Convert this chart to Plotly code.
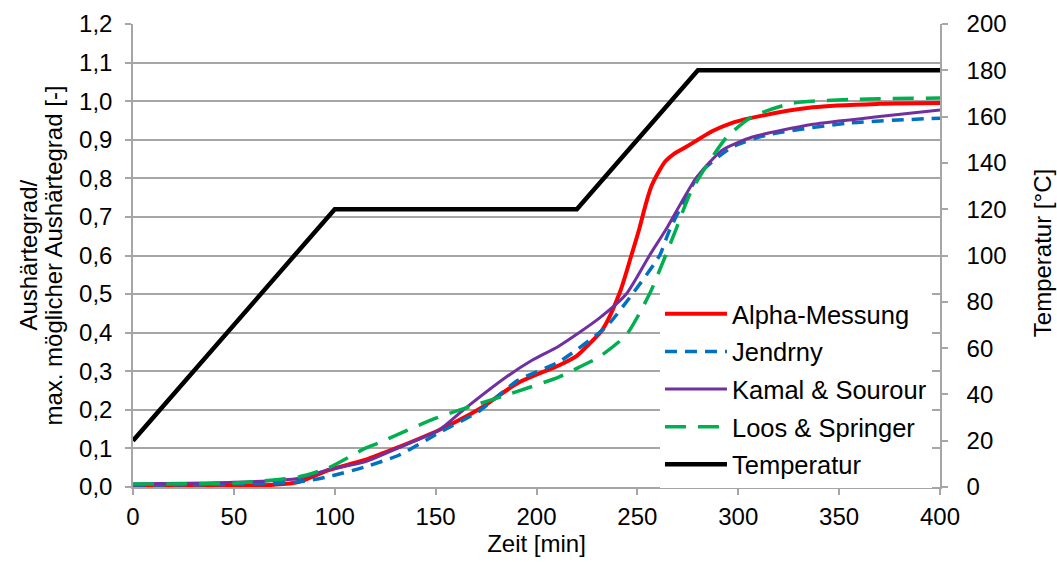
import plotly.graph_objects as go

# ---- data ----
alpha_x = [0, 50, 70, 82, 97, 115, 132, 151.5, 171, 191, 211, 220, 226, 232.6, 241, 247, 251, 254, 257, 261, 264, 268, 273, 280, 287, 296, 306, 337, 370, 400]
alpha_y = [0.003, 0.004, 0.006, 0.013, 0.044, 0.07, 0.104, 0.147, 0.2, 0.27, 0.315, 0.34, 0.37, 0.407, 0.5, 0.6, 0.67, 0.73, 0.78, 0.821, 0.845, 0.863, 0.878, 0.9, 0.922, 0.942, 0.956, 0.984, 0.993, 0.995]

jendrny_x = [0, 50, 82, 97, 115, 132, 151.5, 171, 191, 211, 234.5, 247.5, 261, 266, 281, 297, 314, 354, 400]
jendrny_y = [0.005, 0.007, 0.013, 0.027, 0.052, 0.083, 0.14, 0.195, 0.277, 0.324, 0.415, 0.5, 0.6, 0.666, 0.813, 0.881, 0.912, 0.943, 0.956]

kamal_x = [0, 50, 82, 97, 115, 137, 151.5, 165, 185, 198, 211, 231, 244.5, 256, 264, 279, 292, 307, 337, 370, 400]
kamal_y = [0.008, 0.012, 0.022, 0.045, 0.065, 0.114, 0.147, 0.205, 0.285, 0.329, 0.365, 0.437, 0.5, 0.6, 0.666, 0.8, 0.873, 0.907, 0.94, 0.96, 0.977]

loos_x = [0, 50, 82, 97, 115, 121.6, 148, 165, 185, 211, 221, 231, 244.5, 256, 264, 269, 277, 294, 307, 327, 360, 400]
loos_y = [0.008, 0.01, 0.026, 0.05, 0.1, 0.114, 0.174, 0.205, 0.238, 0.285, 0.31, 0.337, 0.394, 0.5, 0.6, 0.666, 0.77, 0.905, 0.96, 0.995, 1.005, 1.008]

temp_x = [0, 100, 220, 280, 400]
temp_y = [20, 120, 120, 180, 180]

FONT = "Liberation Sans, Arial, sans-serif"
FS = 24
LFS = 25.5
GRID = "#a6a6a6"

fig = go.Figure()
fig.add_trace(go.Scatter(x=alpha_x, y=alpha_y, name="Alpha-Messung", mode="lines", legendgroup="a",
                         line=dict(color="#ff0000", width=4, shape="spline", smoothing=0.8)))
fig.add_trace(go.Scatter(x=jendrny_x, y=jendrny_y, name="Jendrny", mode="lines", legendgroup="b",
                         line=dict(color="#0070c0", width=3.5, dash="12px,8px", shape="spline", smoothing=0.6)))
fig.add_trace(go.Scatter(x=kamal_x, y=kamal_y, name="Kamal & Sourour", mode="lines", legendgroup="c",
                         line=dict(color="#7030a0", width=3, shape="spline", smoothing=0.6)))
fig.add_trace(go.Scatter(x=loos_x, y=loos_y, name="Loos & Springer", mode="lines", legendgroup="d",
                         line=dict(color="#00b050", width=3.5, dash="21px,12px", shape="spline", smoothing=0.6)))
fig.add_trace(go.Scatter(x=temp_x, y=temp_y, name="Temperatur", mode="lines", yaxis="y2", legendgroup="e",
                         line=dict(color="#000000", width=4.5)))

fig.update_layout(
    width=1057, height=562,
    margin=dict(l=133, r=117, t=24, b=75),
    paper_bgcolor="white", plot_bgcolor="white",
    font=dict(family=FONT, size=FS, color="#000000"),
    separators=", ",
    showlegend=True,
    legend=dict(x=0.653, y=0.424, xanchor="left", yanchor="top",
                bgcolor="white", borderwidth=0, itemwidth=62,
                font=dict(family=FONT, size=LFS), tracegroupgap=1.5,
                traceorder="grouped"),
    xaxis=dict(range=[0, 400], dtick=50, tick0=0, showgrid=False, zeroline=False,
               showline=True, linecolor=GRID, linewidth=1.5, automargin=False,
               ticks="outside", ticklen=6, tickcolor=GRID, tickwidth=1.5,
               ticklabelstandoff=1,
               title=dict(text="Zeit [min]", standoff=6, font=dict(size=FS))),
    yaxis=dict(range=[0, 1.2], dtick=0.1, tick0=0, tickformat=".1f", automargin=False,
               showgrid=True, gridcolor=GRID, gridwidth=1.5, zeroline=False,
               showline=True, linecolor=GRID, linewidth=1.5,
               ticks="outside", ticklen=6, tickcolor=GRID, tickwidth=1.5,
               ticklabelstandoff=8),
    yaxis2=dict(range=[0, 200], dtick=20, tick0=0, overlaying="y", side="right", automargin=False,
                showgrid=False, zeroline=False,
                showline=True, linecolor=GRID, linewidth=1.5,
                ticks="outside", ticklen=6, tickcolor=GRID, tickwidth=1.5,
                ticklabelstandoff=14),
    annotations=[
        dict(text="Aushärtegrad/", xref="paper", yref="paper", x=-0.130, y=0.5,
             xanchor="center", yanchor="middle", textangle=-90, showarrow=False,
             font=dict(family=FONT, size=FS)),
        dict(text="max. möglicher Aushärtegrad [-]", xref="paper", yref="paper", x=-0.099, y=0.5,
             xanchor="center", yanchor="middle", textangle=-90, showarrow=False,
             font=dict(family=FONT, size=FS)),
        dict(text="Temperatur [°C]", xref="paper", yref="paper", x=1.1264, y=0.505,
             xanchor="center", yanchor="middle", textangle=-90, showarrow=False,
             font=dict(family=FONT, size=FS)),
    ],
)

fig.write_html("out.html")
